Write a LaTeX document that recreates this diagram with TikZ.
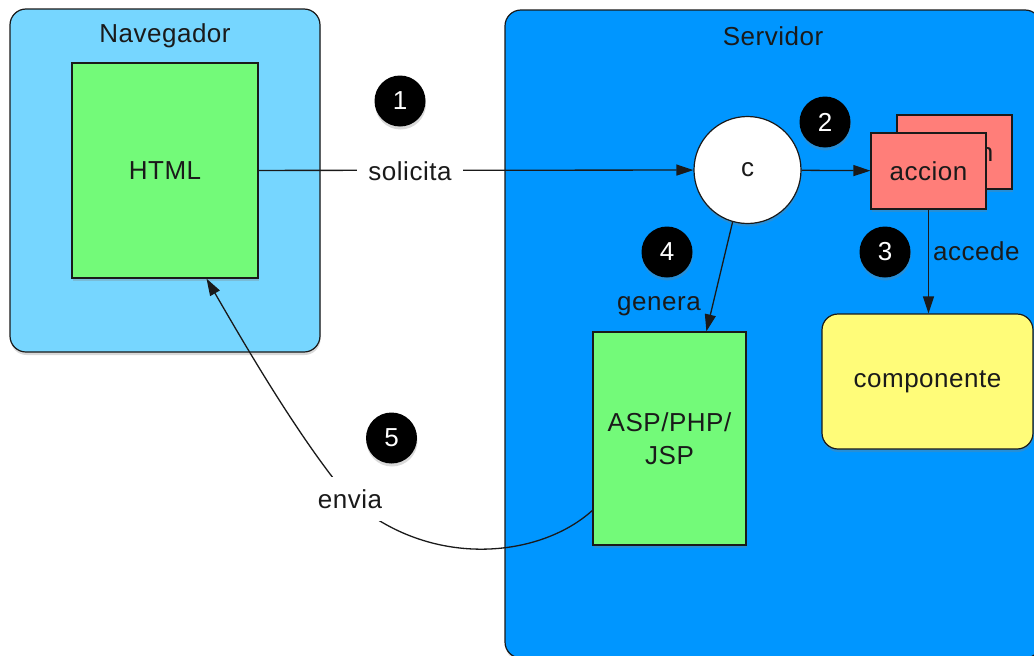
\documentclass[tikz,border=0pt]{standalone}
\usepackage{fontspec}
\setmainfont{Liberation Sans}[LetterSpace=2]
\usetikzlibrary{shadows,arrows.meta,calc}

\definecolor{sky}{HTML}{76D6FF}
\definecolor{aqua}{HTML}{0096FF}
\definecolor{flora}{HTML}{73FA79}
\definecolor{salmon}{HTML}{FF7E79}
\definecolor{banana}{HTML}{FFFC79}
\definecolor{ink}{HTML}{1A1A1A}

\begin{document}
\begin{tikzpicture}[x=1pt,y=-1pt,
  font=\fontsize{26}{33}\selectfont,
  shade/.style={drop shadow={opacity=0.3,shadow xshift=0.5pt,shadow yshift=-3pt}},
  region/.style={draw=ink,line width=1.2pt,rounded corners=16pt,shade,inner sep=0pt},
  panel/.style={draw=ink,line width=1.2pt,shade,inner sep=0pt,align=center,text=ink},
  badge/.style={circle,fill=black,minimum size=51pt,inner sep=0pt,text=white,shade},
  link/.style={line width=1.3pt,draw=ink,-{Triangle[length=17pt,width=11pt]}},
  tag/.style={text=ink,inner sep=0pt}
]
\useasboundingbox (0,0) rectangle (1034,656);

% containers
\begin{scope}
  \clip (0,0) rectangle (1034,656);
  \node[region,fill=aqua,minimum width=536pt,minimum height=648pt] (srv) at (773,334) {};
\end{scope}
\node[region,fill=sky,minimum width=310pt,minimum height=343pt] (nav) at (165,180.5) {};
\node[tag] (navtitle) at (165,36) {Navegador};
\node[tag] (srvtitle) at (773,36) {Servidor};

% components
\node[panel,fill=flora,minimum width=186pt,minimum height=215pt] (html) at (165,170.5) {HTML};
\node[circle,draw=ink,fill=white,line width=1.2pt,minimum size=107pt,inner sep=0pt,shade,text=ink] (c) at (747.5,170) {c};
\node[panel,fill=salmon,minimum width=115pt,minimum height=74pt] (accB) at (954.5,152) {accion};
\node[panel,fill=salmon,minimum width=115pt,minimum height=76pt] (accF) at (928.5,171) {accion};
\node[panel,fill=banana,rounded corners=16pt,minimum width=211pt,minimum height=135pt] (comp) at (927.5,381.5) {componente};
\node[panel,fill=flora,minimum width=153pt,minimum height=213pt] (asp) at (669.5,438.5) {ASP/PHP/\\JSP};

% step badges
\node[badge] (b1) at (400,101) {1};
\node[badge] (b2) at (825,122) {2};
\node[badge] (b3) at (885,252) {3};
\node[badge] (b4) at (667,252) {4};
\node[badge] (b5) at (391.5,438) {5};

% connectors
\draw[link] (html) -- (c);
\node[tag,fill=white,inner xsep=11pt,inner ysep=6pt] (solicita) at (410,171) {solicita};

\draw[link] (c) -- (accF);
\draw[link] (accF.south) -- (accF.south |- comp.north);
\node[tag,anchor=west] (accede) at (933,251) {accede};

\draw[link] (c.254) -- (asp.71);
\node[tag] (genera) at (659,306) {genera};

\coordinate (ev) at (350,499);
\draw[link] (asp.223) .. controls (540,558) and (430,570) .. (ev)
  .. controls (300,440) and (245,345) .. (html.-69);
\node[tag,fill=white,inner xsep=10pt,inner ysep=12pt] (envia) at (ev) {envia};
\end{tikzpicture}
\end{document}
